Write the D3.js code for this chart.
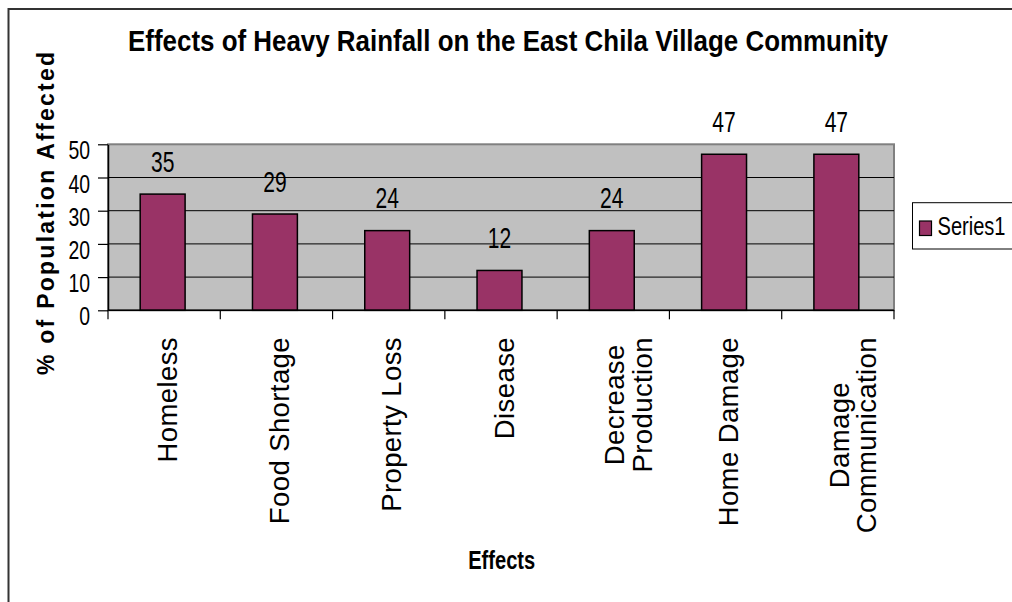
<!DOCTYPE html>
<html>
<head>
<meta charset="utf-8">
<script src="https://cdn.jsdelivr.net/npm/d3@7"></script>
<style>
  html, body { margin: 0; padding: 0; background: #fff; }
  svg { display: block; font-family: "Liberation Sans", Arial, sans-serif; }
</style>
</head>
<body>
<svg id="chart" width="1012" height="602"></svg>
<script>
// ---- data ----
const chartTitle = "Effects of Heavy Rainfall on the East Chila Village Community";
const xTitle = "Effects";
const yTitle = "% of Population Affected";
const seriesName = "Series1";
const categories = ["Homeless", "Food Shortage", "Property Loss", "Disease", "Decrease Production", "Home Damage", "Damage Communication"];
const categoryLines = [["Homeless"], ["Food Shortage"], ["Property Loss"], ["Disease"], ["Decrease", "Production"], ["Home Damage"], ["Damage", "Communication"]];
const values = [35, 29, 24, 12, 24, 47, 47];
const yTicks = [0, 10, 20, 30, 40, 50];

// ---- layout ----
const W = 1012, H = 602;
const plot = { left: 108, right: 894, top: 144.3, bottom: 310.3 };
const barColor = "#993366";
const plotBg = "#C0C0C0";

const svg = d3.select("#chart");

svg.append("rect").attr("x", 0).attr("y", 0).attr("width", W).attr("height", H).attr("fill", "#fff");

// outer chart border (extends past right/bottom edge)
svg.append("rect")
  .attr("x", 8.5).attr("y", 9)
  .attr("width", 1100).attr("height", 1000)
  .attr("fill", "none").attr("stroke", "#333").attr("stroke-width", 2);

const x = d3.scaleBand()
  .domain(categories)
  .range([plot.left, plot.right])
  .paddingInner(0.6)
  .paddingOuter(0.3);

const y = d3.scaleLinear()
  .domain([0, d3.max(yTicks)])
  .range([plot.bottom, plot.top]);

// plot area background
svg.append("rect")
  .attr("x", plot.left).attr("y", plot.top)
  .attr("width", plot.right - plot.left)
  .attr("height", plot.bottom - plot.top)
  .attr("fill", plotBg)
  .attr("stroke", "#808080").attr("stroke-width", 2);

// gridlines
svg.append("g").selectAll("line")
  .data(yTicks.filter(t => t > 0 && t < d3.max(yTicks)))
  .join("line")
  .attr("x1", plot.left).attr("x2", plot.right)
  .attr("y1", d => y(d)).attr("y2", d => y(d))
  .attr("stroke", "#000").attr("stroke-width", 1);

// bars
svg.append("g").selectAll("rect")
  .data(categories)
  .join("rect")
  .attr("x", d => x(d) - 1.5)
  .attr("width", x.bandwidth())
  .attr("y", (d, i) => y(values[i]))
  .attr("height", (d, i) => y(0) - y(values[i]))
  .attr("fill", barColor)
  .attr("stroke", "#000").attr("stroke-width", 1.5);

// data labels
svg.append("g").selectAll("text")
  .data(categories)
  .join("text")
  .attr("x", d => x(d) + x.bandwidth() / 2 - 1.5)
  .attr("y", (d, i) => y(values[i]) - 22.5)
  .attr("text-anchor", "middle")
  .attr("font-size", 30)
  .attr("textLength", (d, i) => String(values[i]).length * 11.7)
  .attr("lengthAdjust", "spacingAndGlyphs")
  .attr("fill", "#000")
  .text((d, i) => values[i]);

// y axis
const yAxis = svg.append("g")
  .attr("transform", `translate(${plot.left},0)`)
  .call(d3.axisLeft(y).tickValues(yTicks).tickSize(10).tickSizeOuter(0).tickPadding(8).tickFormat(d3.format("d")));
yAxis.select(".domain").attr("stroke", "#000").attr("stroke-width", 1.5);
yAxis.selectAll(".tick line").attr("stroke", "#000").attr("stroke-width", 1.2);
yAxis.selectAll(".tick text")
  .attr("font-size", 25)
  .attr("font-family", "Liberation Sans, Arial, sans-serif")
  .attr("fill", "#000")
  .attr("dy", "14.5px")
  .attr("textLength", d => String(d).length * 10.8)
  .attr("lengthAdjust", "spacingAndGlyphs");

// x axis line and boundary ticks
svg.append("line")
  .attr("x1", plot.left).attr("x2", plot.right)
  .attr("y1", y(0)).attr("y2", y(0))
  .attr("stroke", "#000").attr("stroke-width", 1.5);
const boundaries = categories.map(c => x(c) - x.step() * x.paddingOuter()).concat([x.range()[1]]);
svg.append("g").selectAll("line")
  .data(boundaries)
  .join("line")
  .attr("x1", d => d).attr("x2", d => d)
  .attr("y1", y(0)).attr("y2", y(0) + 9)
  .attr("stroke", "#000").attr("stroke-width", 1.2);

// category labels (rotated)
const labelTop = 337;
const lineGap = 27.5;
const catG = svg.append("g");
categories.forEach((c, i) => {
  const lines = categoryLines[i];
  const cx = x(c) + x.bandwidth() / 2;
  const g = catG.append("g").attr("transform", `translate(${cx},${labelTop}) rotate(-90)`);
  if (lines.length === 1) {
    g.append("text")
      .attr("x", 0).attr("y", 0).attr("dy", 12.5)
      .attr("text-anchor", "end")
      .attr("font-size", 27.5)
      .attr("letter-spacing", 0.4)
      .attr("fill", "#000")
      .text(lines[0]);
  } else {
    const texts = g.selectAll("text").data(lines).join("text")
      .attr("y", (d, k) => -1.5 + k * lineGap).attr("dy", 12.5)
      .attr("text-anchor", "middle")
      .attr("font-size", 27.5)
      .attr("letter-spacing", 0.4)
      .attr("fill", "#000")
      .text(d => d);
    let maxLen = 0;
    texts.each(function () { maxLen = Math.max(maxLen, this.getComputedTextLength()); });
    texts.attr("x", -maxLen / 2);
  }
});

// title
svg.append("text")
  .attr("x", 508).attr("y", 51)
  .attr("text-anchor", "middle")
  .attr("font-size", 29).attr("font-weight", "bold")
  .attr("textLength", 760).attr("lengthAdjust", "spacingAndGlyphs")
  .attr("fill", "#000")
  .text(chartTitle);

// x title
svg.append("text")
  .attr("x", 501.7).attr("y", 569)
  .attr("text-anchor", "middle")
  .attr("font-size", 26).attr("font-weight", "bold")
  .attr("textLength", 67).attr("lengthAdjust", "spacingAndGlyphs")
  .attr("fill", "#000")
  .text(xTitle);

// y title
svg.append("text")
  .attr("transform", "translate(53.5,213.5) rotate(-90)")
  .attr("text-anchor", "middle")
  .attr("font-size", 23).attr("font-weight", "bold")
  .attr("textLength", 323).attr("lengthAdjust", "spacing")
  .attr("fill", "#000")
  .text(yTitle);

// legend
const legend = svg.append("g");
legend.append("rect")
  .attr("x", 912.5).attr("y", 202.7)
  .attr("width", 120).attr("height", 46.3)
  .attr("fill", "#fff").attr("stroke", "#000").attr("stroke-width", 1);
legend.append("rect")
  .attr("x", 919.5).attr("y", 221)
  .attr("width", 12).attr("height", 14.5)
  .attr("fill", barColor).attr("stroke", "#000").attr("stroke-width", 1.2);
legend.append("text")
  .attr("x", 937.5).attr("y", 235)
  .attr("font-size", 26)
  .attr("textLength", 68).attr("lengthAdjust", "spacingAndGlyphs")
  .attr("fill", "#000")
  .text(seriesName);
</script>
</body>
</html>
